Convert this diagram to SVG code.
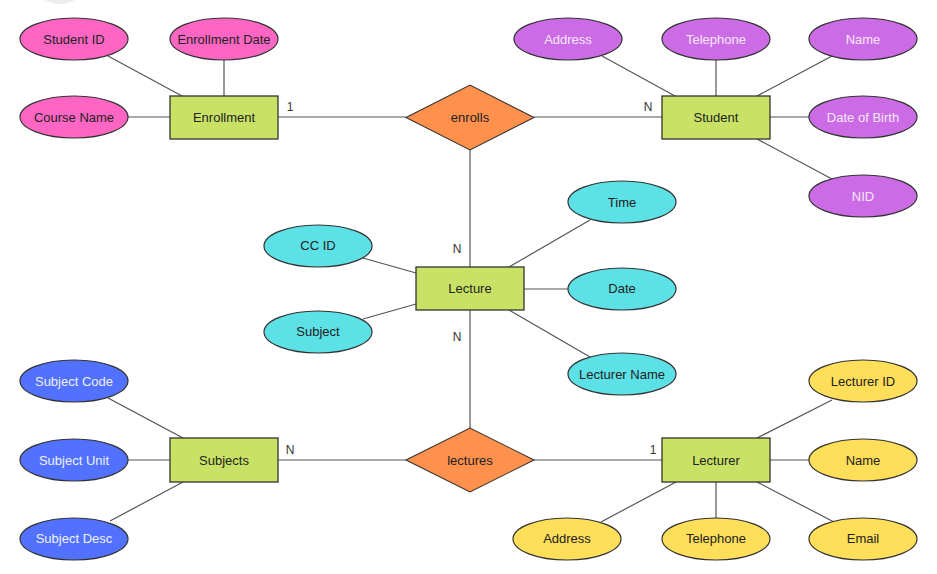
<svg xmlns="http://www.w3.org/2000/svg" width="937" height="574" viewBox="0 0 937 574">
  <style>
    text { font-family: "Liberation Sans", Arial, sans-serif; font-size: 13px; text-anchor: middle; dominant-baseline: central; fill: #222; }
    .ent rect { fill: #c9e265; stroke: #333; stroke-width: 1.3; }
    .rel polygon { fill: #ff914d; stroke: #333; stroke-width: 1.1; }
    ellipse { stroke: #333; stroke-width: 1.2; }
    .pink ellipse { fill: #ff66c4; }
    .purple ellipse { fill: #cb6ce6; }
    .purple text { fill: #f6e8fb; }
    .cyan ellipse { fill: #5ce1e6; }
    .blue ellipse { fill: #5271ff; }
    .blue text { fill: #eef0ff; }
    .yellow ellipse { fill: #ffde59; }
    #connectors line { stroke: #555; stroke-width: 1.2; }
    .card { font-size: 12px; fill: #333; }
  </style>

  <rect width="937" height="574" fill="#ffffff"/>
  <circle cx="60" cy="-26" r="30" fill="#ededf0"/>

  <g id="connectors">
    <!-- Enrollment attributes -->
    <line x1="108" y1="56" x2="182" y2="96"/>
    <line x1="224" y1="60" x2="224" y2="96"/>
    <line x1="128" y1="117" x2="170" y2="117"/>
    <!-- Enrollment - enrolls - Student -->
    <line x1="278" y1="117" x2="406" y2="117"/>
    <line x1="534" y1="117" x2="662" y2="117"/>
    <!-- Student attributes -->
    <line x1="602" y1="56" x2="675" y2="96"/>
    <line x1="716" y1="60" x2="716" y2="96"/>
    <line x1="832" y1="56" x2="757" y2="96"/>
    <line x1="770" y1="117" x2="809" y2="117"/>
    <line x1="757" y1="139" x2="832" y2="179"/>
    <!-- enrolls - Lecture - lectures -->
    <line x1="470" y1="150" x2="470" y2="267"/>
    <line x1="470" y1="310" x2="470" y2="428"/>
    <!-- Lecture attributes -->
    <line x1="363" y1="258" x2="416" y2="273"/>
    <line x1="363" y1="319" x2="416" y2="304"/>
    <line x1="590" y1="220" x2="509" y2="267"/>
    <line x1="524" y1="289" x2="568" y2="289"/>
    <line x1="509" y1="310" x2="590" y2="357"/>
    <!-- Subjects - lectures - Lecturer -->
    <line x1="278" y1="460" x2="406" y2="460"/>
    <line x1="534" y1="460" x2="662" y2="460"/>
    <!-- Subjects attributes -->
    <line x1="108" y1="398" x2="183" y2="438"/>
    <line x1="128" y1="460" x2="170" y2="460"/>
    <line x1="110" y1="521" x2="183" y2="482"/>
    <!-- Lecturer attributes -->
    <line x1="832" y1="400" x2="757" y2="438"/>
    <line x1="770" y1="460" x2="809" y2="460"/>
    <line x1="757" y1="482" x2="834" y2="522"/>
    <line x1="716" y1="482" x2="716" y2="518"/>
    <line x1="676" y1="482" x2="601" y2="522"/>
  </g>

  <!-- Cardinalities -->
  <g id="cardinalities">
    <text class="card" x="290" y="107">1</text>
    <text class="card" x="648" y="107">N</text>
    <text class="card" x="457" y="249">N</text>
    <text class="card" x="457" y="337">N</text>
    <text class="card" x="290" y="450">N</text>
    <text class="card" x="653" y="450">1</text>
  </g>

  <!-- Entities -->
  <g id="enrollment" class="ent"><rect x="170" y="96" width="108" height="43"/><text x="224" y="117.5">Enrollment</text></g>
  <g id="student" class="ent"><rect x="662" y="96" width="108" height="43"/><text x="716" y="117.5">Student</text></g>
  <g id="lecture" class="ent"><rect x="416" y="267" width="108" height="43"/><text x="470" y="288.5">Lecture</text></g>
  <g id="subjects" class="ent"><rect x="170" y="438" width="108" height="44"/><text x="224" y="460">Subjects</text></g>
  <g id="lecturer" class="ent"><rect x="662" y="438" width="108" height="44"/><text x="716" y="460">Lecturer</text></g>

  <!-- Relationships -->
  <g id="enrolls" class="rel"><polygon points="406,117.5 470,85 534,117.5 470,150"/><text x="470" y="117">enrolls</text></g>
  <g id="lectures" class="rel"><polygon points="406,460 470,428 534,460 470,492"/><text x="470" y="460">lectures</text></g>

  <!-- Enrollment attributes -->
  <g id="enr-student-id" class="pink"><ellipse cx="74" cy="39" rx="54" ry="21"/><text x="74" y="39">Student ID</text></g>
  <g id="enr-date" class="pink"><ellipse cx="224" cy="39" rx="54" ry="21"/><text x="224" y="39">Enrollment Date</text></g>
  <g id="enr-course" class="pink"><ellipse cx="74" cy="117" rx="54" ry="21"/><text x="74" y="117">Course Name</text></g>

  <!-- Student attributes -->
  <g id="stu-address" class="purple"><ellipse cx="568" cy="39" rx="54" ry="21"/><text x="568" y="39">Address</text></g>
  <g id="stu-telephone" class="purple"><ellipse cx="716" cy="39" rx="54" ry="21"/><text x="716" y="39">Telephone</text></g>
  <g id="stu-name" class="purple"><ellipse cx="863" cy="39" rx="54" ry="21"/><text x="863" y="39">Name</text></g>
  <g id="stu-dob" class="purple"><ellipse cx="863" cy="117" rx="54" ry="21"/><text x="863" y="117">Date of Birth</text></g>
  <g id="stu-nid" class="purple"><ellipse cx="863" cy="196" rx="54" ry="21"/><text x="863" y="196">NID</text></g>

  <!-- Lecture attributes -->
  <g id="lec-ccid" class="cyan"><ellipse cx="318" cy="246" rx="54" ry="21"/><text x="318" y="245">CC ID</text></g>
  <g id="lec-subject" class="cyan"><ellipse cx="318" cy="332" rx="54" ry="21"/><text x="318" y="331">Subject</text></g>
  <g id="lec-time" class="cyan"><ellipse cx="622" cy="202" rx="54" ry="21"/><text x="622" y="202">Time</text></g>
  <g id="lec-date" class="cyan"><ellipse cx="622" cy="289" rx="54" ry="21"/><text x="622" y="288">Date</text></g>
  <g id="lec-lecturer-name" class="cyan"><ellipse cx="622" cy="374" rx="54" ry="21"/><text x="622" y="374">Lecturer Name</text></g>

  <!-- Subjects attributes -->
  <g id="sub-code" class="blue"><ellipse cx="74" cy="381" rx="54" ry="21"/><text x="74" y="381">Subject Code</text></g>
  <g id="sub-unit" class="blue"><ellipse cx="74" cy="460" rx="54" ry="21"/><text x="74" y="460">Subject Unit</text></g>
  <g id="sub-desc" class="blue"><ellipse cx="74" cy="539" rx="54" ry="21"/><text x="74" y="538">Subject Desc</text></g>

  <!-- Lecturer attributes -->
  <g id="lr-id" class="yellow"><ellipse cx="863" cy="381" rx="54" ry="21"/><text x="863" y="381">Lecturer ID</text></g>
  <g id="lr-name" class="yellow"><ellipse cx="863" cy="460" rx="54" ry="21"/><text x="863" y="460">Name</text></g>
  <g id="lr-email" class="yellow"><ellipse cx="863" cy="539" rx="54" ry="21"/><text x="863" y="538">Email</text></g>
  <g id="lr-telephone" class="yellow"><ellipse cx="716" cy="539" rx="54" ry="21"/><text x="716" y="538">Telephone</text></g>
  <g id="lr-address" class="yellow"><ellipse cx="567" cy="539" rx="54" ry="21"/><text x="567" y="538">Address</text></g>
</svg>
